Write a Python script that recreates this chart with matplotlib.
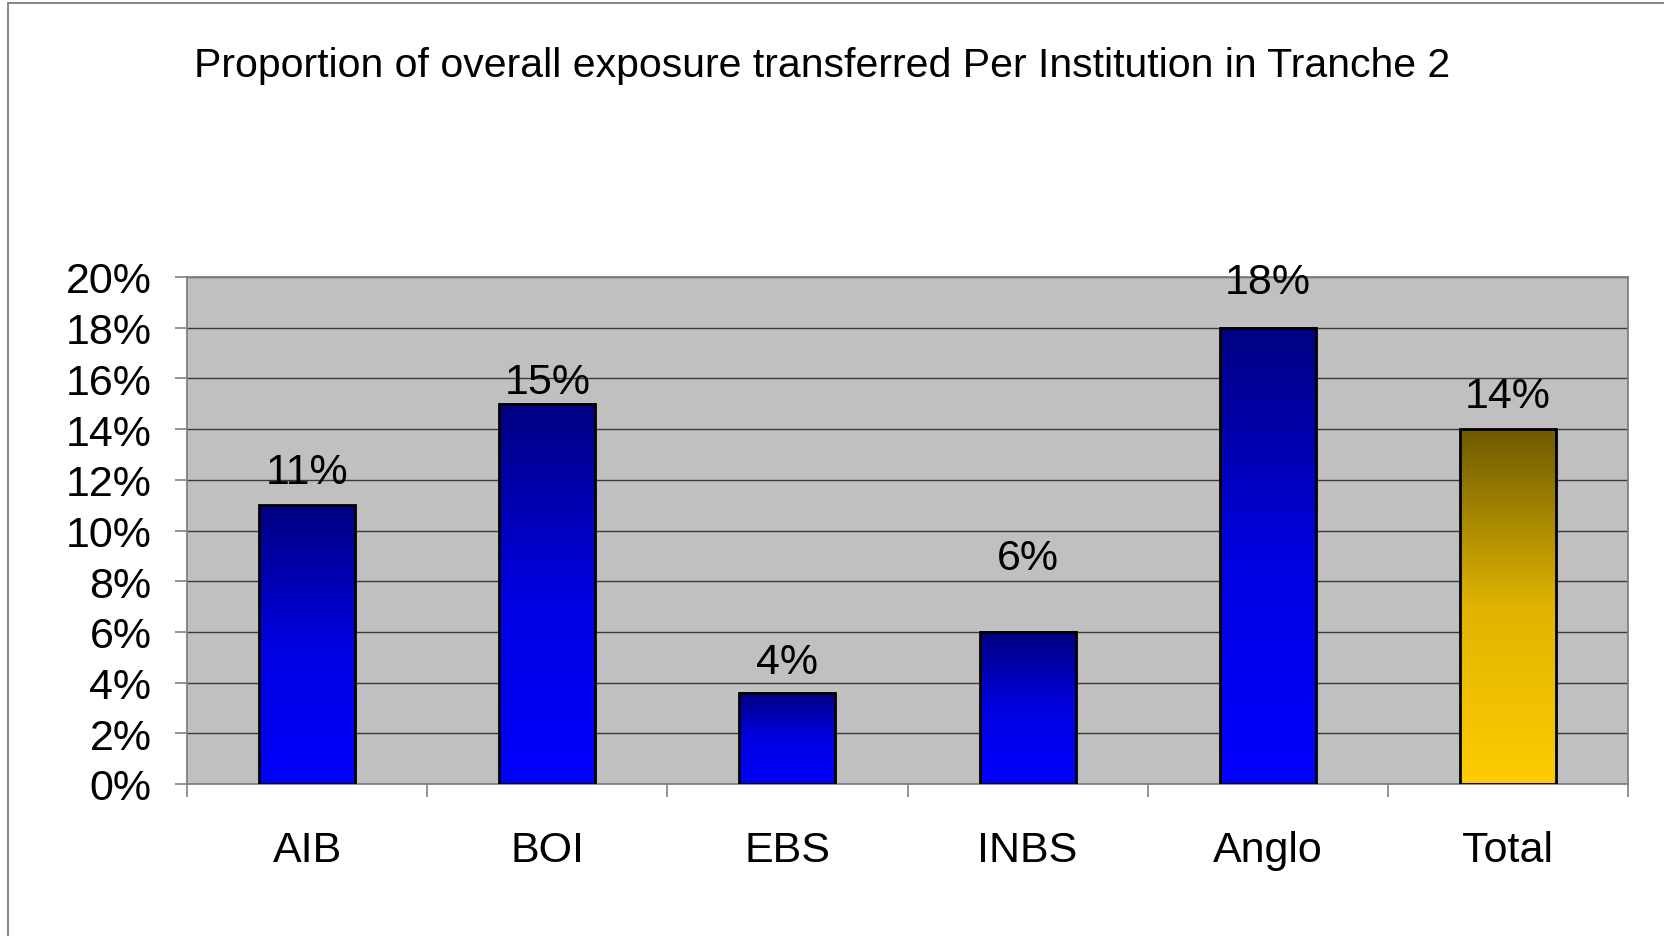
import numpy as np
import matplotlib
matplotlib.use("Agg")
from matplotlib import pyplot as plt
from matplotlib.colors import LinearSegmentedColormap
from matplotlib.patches import Rectangle
from matplotlib.ticker import FuncFormatter

plt.rcParams['font.family'] = ['Liberation Sans', 'DejaVu Sans']

# data
institutions = ['AIB', 'BOI', 'EBS', 'INBS', 'Anglo', 'Total']
values = [11.0, 15.0, 3.6, 6.0, 18.0, 14.0]
labels = ['11%', '15%', '4%', '6%', '18%', '14%']
label_y = [12.3, 15.85, 4.8, 8.9, 19.8, 15.3]   # where the value labels sit
is_total = [False, False, False, False, False, True]

title = 'Proportion of overall exposure transferred Per Institution in Tranche 2'

W, H = 1664, 937
fig = plt.figure(figsize=(W / 100, H / 100), dpi=100)
fig.patch.set_facecolor('white')

# outer chart frame (runs off right/bottom edge)
fig.patches.append(Rectangle((8 / W, -0.01), 1.02, 1 - 4 / H + 0.01,
                             transform=fig.transFigure, fill=False,
                             edgecolor='#707070', linewidth=1.2))

ax = fig.add_axes([187 / W, 1 - 785 / H, (1628 - 187) / W, (785 - 278) / H])
ax.set_facecolor('#C0C0C0')

blue_cm = LinearSegmentedColormap.from_list('blu', ['#0000FF', '#0000E0', '#000080'])
gold_cm = LinearSegmentedColormap.from_list('gld', ['#FFCC00', '#E0B400', '#6E5A00'])
grad = np.linspace(0, 1, 256).reshape(-1, 1)

width = 0.4
x = np.arange(len(institutions))
for i in range(len(institutions)):
    cm = gold_cm if is_total[i] else blue_cm
    ax.imshow(grad, cmap=cm, origin='lower', aspect='auto', zorder=2,
              extent=[x[i] - width / 2, x[i] + width / 2, 0, values[i]],
              interpolation='bilinear')
bars = ax.bar(x, values, width=width, facecolor='none', edgecolor='black',
              linewidth=2.0, zorder=3)

for i in range(len(institutions)):
    ax.text(x[i], label_y[i], labels[i], ha='center', va='center',
            fontsize=31, zorder=5, clip_on=False)

ax.set_xlim(-0.5, len(institutions) - 0.5)
ax.set_ylim(0, 20)
ax.set_yticks(np.arange(0, 21, 2))
ax.yaxis.set_major_formatter(FuncFormatter(lambda v, p: '%d%%' % v))
ax.yaxis.grid(True, color='#3a3a3a', linewidth=1.0, zorder=1)
ax.set_axisbelow(True)

# ticks at category boundaries, labels centred
ax.set_xticks(np.arange(-0.5, len(institutions), 1.0))
ax.set_xticklabels([])
ax.set_xticks(x, minor=True)
ax.set_xticklabels(institutions, minor=True, fontsize=31)
ax.tick_params(axis='x', which='minor', length=0, pad=33)
ax.tick_params(axis='x', which='major', length=9, width=1.2, color='#808080')
ax.tick_params(axis='y', length=8.6, width=1.2, color='#808080', pad=17,
               labelsize=31)

for s in ax.spines.values():
    s.set_color('#808080')
    s.set_linewidth(1.3)

fig.text(822 / W, 1 - 66 / H, title, ha='center', va='center', fontsize=29.5)

fig.savefig('out.png', dpi=100)
